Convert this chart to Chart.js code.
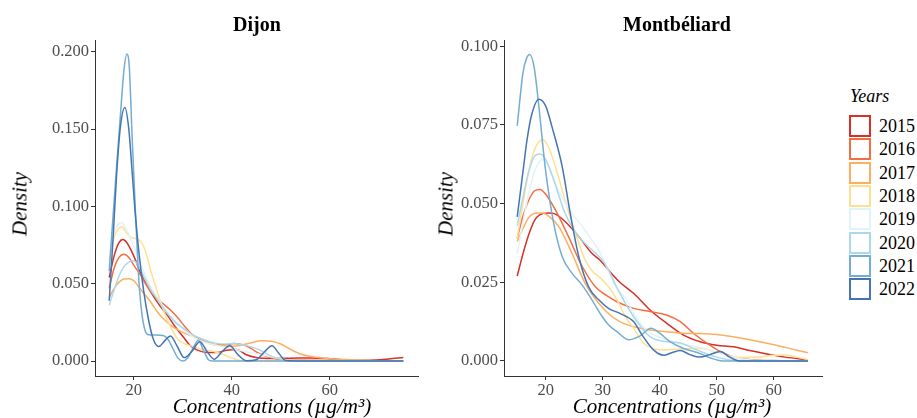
<!DOCTYPE html>
<html>
<head>
<meta charset="utf-8">
<script src="https://cdn.jsdelivr.net/npm/chart.js@4.4.0/dist/chart.umd.min.js"></script>
<style>
  body { margin: 0; background: #fff; }
  #wrap { position: relative; width: 917px; height: 418px; overflow: hidden; font-family: "Liberation Serif", "Times New Roman", serif; color: #000; }
  .panel { position: absolute; top: 0; height: 418px; }
  .title { position: absolute; top: 14px; font-weight: bold; font-size: 20px; line-height: 20px; transform: translateX(-50%); white-space: nowrap; }
  .xtitle { position: absolute; top: 396px; font-style: italic; font-size: 21px; line-height: 21px; transform: translateX(-50%); white-space: nowrap; }
  .ytitle { position: absolute; top: 204px; font-style: italic; font-size: 21px; line-height: 21px; transform: translate(-50%, -50%) rotate(-90deg); white-space: nowrap; }
  #legend { position: absolute; left: 849px; top: 86px; }
  #legend .head { font-style: italic; font-size: 18px; line-height: 20px; margin: 0 0 9px 1px; }
  #legend .row { position: relative; height: 23.33px; }
  #legend .key { position: absolute; left: 0; top: 0; width: 18px; height: 18px; border: 2px solid; background: #fff; }
  #legend .lab { position: absolute; left: 30px; top: 1px; font-size: 18px; line-height: 20px; }
</style>
</head>
<body>
<div id="wrap">
  <div class="panel" style="left:0;width:430px;"><canvas id="dijonChart"></canvas></div>
  <div class="panel" style="left:420px;width:420px;"><canvas id="montChart"></canvas></div>
  <div class="title" style="left:257px;">Dijon</div>
  <div class="title" style="left:677px;">Montbéliard</div>
  <div class="ytitle" style="left:20px;">Density</div>
  <div class="ytitle" style="left:446px;">Density</div>
  <div class="xtitle" style="left:272px;">Concentrations (µg/m³)</div>
  <div class="xtitle" style="left:672px;">Concentrations (µg/m³)</div>
  <div id="legend"></div>
</div>
<script>
// Years and line colours
const years = ['2015', '2016', '2017', '2018', '2019', '2020', '2021', '2022'];
const colors = ['#d73027', '#f46d43', '#fdae61', '#fee090', '#e0f3f8', '#abd9e9', '#74add1', '#4575b4'];

// Axis ticks
const dijonXTicks = [20, 40, 60];
const dijonYTicks = [0, 0.05, 0.1, 0.15, 0.2];
const montXTicks = [20, 30, 40, 50, 60];
const montYTicks = [0, 0.025, 0.05, 0.075, 0.1];

// Dijon densities, [concentration, density]
const dijon2015 = [[15,.054],[16,.068],[17,.0765],[17.8,.0785],[18.7,.076],[20,.068],[21.4,.057],[22.5,.05],[24,.042],[25.5,.035],[27,.029],[28.5,.022],[30,.016],[31.5,.01],[33,.007],[35,.0055],[37,.0055],[39,.007],[41,.0075],[43,.004],[45,.0022],[48,.0016],[52,.0018],[56,.002],[60,.0015],[65,.0004],[69,.0006],[72,.0013],[75,.0022]];
const dijon2016 = [[15,.047],[16,.06],[17,.067],[18,.069],[19,.067],[20,.062],[21.5,.055],[23,.047],[24.5,.041],[26,.037],[27.5,.033],[29,.028],[30.5,.022],[32,.017],[33.5,.014],[35,.012],[36.6,.0105],[38.5,.0105],[40.5,.0113],[42.5,.0103],[44,.008],[45.5,.005],[47.5,.0025],[50,.001],[55,.0005],[60,.0003],[75,0]];
const dijon2017 = [[15,.041],[16,.047],[17,.051],[18,.053],[19,.0532],[20,.052],[21,.048],[22,.044],[23.5,.038],[25,.031],[26.5,.026],[28,.022],[30,.0185],[32,.016],[34,.013],[36,.011],[38,.0098],[40,.0095],[42,.0102],[44,.0118],[46,.0131],[48,.0127],[50,.011],[52,.0075],[54,.0045],[56,.003],[59,.0018],[63,.0009],[68,.0003],[75,0]];
const dijon2018 = [[15,.065],[16,.08],[17,.086],[17.6,.0868],[18.5,.083],[19.5,.08],[20.5,.079],[21.5,.077],[22.5,.07],[23.5,.058],[24.5,.048],[25.5,.038],[26.8,.027],[28,.019],[29,.014],[30.5,.011],[32,.0095],[34,.0075],[36.5,.006],[38,.0045],[40,.002],[41.5,.0005],[43,0],[75,0]];
const dijon2019 = [[15,.07],[16,.083],[17,.089],[17.5,.0895],[18.5,.085],[19.5,.078],[20.5,.07],[22,.058],[23.5,.048],[25,.04],[27,.031],[29,.024],[31,.018],[33,.014],[35,.0115],[37,.01],[40,.008],[43,.006],[46,.004],[49,.002],[52,.0005],[55,0],[75,0]];
const dijon2020 = [[15,.036],[16,.046],[17,.055],[18,.061],[19,.064],[19.8,.065],[20.7,.063],[22,.055],[23.5,.046],[25,.039],[26.8,.031],[28.5,.025],[30.2,.021],[32,.017],[33.6,.0147],[35.5,.0125],[37,.0114],[38.5,.011],[40.4,.0113],[42,.0105],[43.8,.0093],[45.8,.007],[47.5,.004],[49,.002],[51,.0005],[53,0],[75,0]];
const dijon2021 = [[15,.058],[15.7,.09],[16.4,.121],[17.4,.164],[18,.188],[18.6,.1985],[19.1,.19],[19.7,.143],[20.3,.1],[20.9,.06],[21.5,.035],[22.2,.021],[23,.017],[24.5,.0168],[26,.0165],[27,.014],[28,.008],[29,.002],[30,0],[31,.002],[32.2,.009],[33.2,.0135],[34.2,.007],[35.2,.001],[36,0],[75,0]];
const dijon2022 = [[15,.039],[15.8,.08],[16.5,.12],[17.3,.152],[18.2,.164],[19,.15],[19.5,.13],[20.2,.1],[21,.072],[22,.046],[23,.027],[24,.014],[25.1,.0093],[26.3,.013],[27.5,.0162],[28.8,.01],[30.3,.0022],[31.8,.006],[33.5,.0125],[35,.006],[36.4,.0012],[38,.006],[39.6,.0098],[41.3,.004],[43,.0002],[45,.0008],[46.7,.006],[48.2,.0099],[49.6,.005],[51,.0003],[53,0],[75,0]];

// Montbéliard densities, [concentration, density]
const mont2015 = [[15,.027],[16,.034],[17,.04],[18,.0445],[19,.0465],[20.5,.047],[21.5,.0468],[23.4,.0443],[25.8,.0395],[28.1,.0342],[29.5,.0321],[31,.0289],[33,.025],[35.4,.0215],[38.3,.0162],[41.2,.012],[44.1,.0083],[47.1,.0061],[50,.005],[52.9,.0045],[55.8,.0033],[58.8,.0022],[62,.0012],[66,.0003]];
const mont2016 = [[15,.039],[16,.046],[17,.051],[18,.054],[19,.0545],[20,.053],[21.7,.048],[24,.0395],[26.4,.03],[28.7,.0236],[31,.0204],[32.5,.0188],[35.4,.0167],[38.3,.0157],[41.2,.0146],[43.6,.0125],[45.9,.0088],[48.8,.005],[50.6,.003],[53,.0012],[56,.0004],[60,.0001],[66,0]];
const mont2017 = [[15,.038],[16,.042],[17,.0455],[18.5,.047],[19.5,.047],[20.5,.046],[22.3,.0427],[24.6,.0342],[26.9,.0247],[29.3,.0183],[31.3,.0146],[33,.0125],[35.4,.0109],[38.3,.0098],[41.2,.0093],[44.1,.0088],[47.1,.0087],[50,.0084],[52.9,.0077],[55.8,.0067],[58.8,.0056],[62,.0043],[66,.0026]];
const mont2018 = [[15,.039],[16,.05],[17,.06],[18,.067],[19.5,.0704],[20.5,.068],[21.7,.0617],[23.4,.0511],[25.2,.0406],[26.9,.0321],[28.2,.0285],[29.5,.0265],[31,.0236],[32.5,.0195],[34,.014],[35.4,.0104],[37.1,.0058],[38.5,.0042],[40,.0035],[43,.0037],[47,.004],[50.6,.0024],[54,.0011],[57,.0012],[60,.0018],[62,.0019],[64,.0012],[66,.0004]];
const mont2019 = [[15,.034],[16,.044],[17,.053],[18,.06],[19.4,.064],[20.5,.062],[22,.055],[23.5,.05],[24.6,.0469],[26.5,.0425],[28.1,.0384],[29.5,.0345],[31,.0285],[32.5,.023],[34.2,.0194],[35.4,.0151],[37.7,.0098],[41.2,.0067],[44.7,.0051],[48.8,.0035],[52,.0015],[56,.0003],[60,0],[66,0]];
const mont2020 = [[15,.043],[16,.052],[17,.06],[18,.065],[19,.0658],[20,.064],[21.4,.0575],[23.4,.0469],[25.8,.0395],[28.1,.0353],[29.9,.0321],[31,.029],[32.4,.0236],[35.4,.0141],[38.3,.0077],[41.2,.0061],[43.6,.0057],[46.5,.0035],[50,.0012],[54,0],[66,0]];
const mont2021 = [[15,.0747],[16,.0915],[16.6,.096],[17.2,.0974],[18,.093],[18.8,.0808],[19.9,.0617],[21.4,.0437],[22.9,.0331],[24.6,.0279],[26.4,.0241],[28.1,.0194],[29.9,.0141],[31,.0115],[32.5,.0093],[34.6,.0067],[36.5,.0079],[38.5,.0104],[40,.0088],[41.8,.0061],[44.1,.004],[47,.0024],[48.8,.001],[51,0],[66,0]];
const mont2022 = [[15,.0458],[16,.06],[16.7,.07],[17.5,.078],[18.8,.0832],[20,.081],[21.1,.0744],[22.9,.0617],[24.3,.0469],[25.8,.0331],[27.5,.0236],[29.3,.0194],[31,.0167],[33,.0151],[35.4,.0125],[37.1,.0077],[38.9,.0035],[40.7,.0018],[42,.0025],[43.6,.0033],[45.3,.002],[47,.0012],[48.8,.002],[50.6,.003],[52.3,.0012],[54,0],[66,0]];

const dijonSeries = [dijon2015, dijon2016, dijon2017, dijon2018, dijon2019, dijon2020, dijon2021, dijon2022];
const montSeries = [mont2015, mont2016, mont2017, mont2018, mont2019, mont2020, mont2021, mont2022];

const tickFont = { family: '"Liberation Serif", "Times New Roman", serif', size: 16.5 };
const axisColor = '#333333';

function makeChart(canvasId, series, opts) {
    const datasets = series.map((pts, i) => ({
        label: years[i],
        data: pts.map(([x, y]) => ({ x: x, y: y })),
        borderColor: colors[i],
        borderWidth: 1.5,
        pointRadius: 0,
        fill: false,
        cubicInterpolationMode: 'monotone',
        order: series.length - 1 - i   // 2022 drawn on top, like ggplot
    }));

    return new Chart(document.getElementById(canvasId), {
        type: 'line',
        data: { datasets: datasets },
        options: {
            responsive: true,
            maintainAspectRatio: false,
            animation: false,
            events: [],
            layout: { padding: { top: 40, right: opts.padRight, left: 0, bottom: 0 } },
            plugins: { legend: { display: false }, tooltip: { enabled: false } },
            scales: {
                x: {
                    type: 'linear',
                    min: opts.xMin,
                    max: opts.xMax,
                    afterBuildTicks: scale => { scale.ticks = opts.xTicks.map(v => ({ value: v })); },
                    afterFit: scale => { scale.height = 42; },
                    ticks: { font: tickFont, color: '#4d4d4d', padding: 1, maxRotation: 0, callback: v => String(v) },
                    grid: { drawOnChartArea: false, drawTicks: true, tickLength: 4, color: axisColor },
                    border: { display: true, color: axisColor, width: 1 }
                },
                y: {
                    type: 'linear',
                    min: opts.yMin,
                    max: opts.yMax,
                    afterBuildTicks: scale => { scale.ticks = opts.yTicks.map(v => ({ value: v })); },
                    afterFit: scale => { scale.width = opts.yWidth; },
                    ticks: { font: tickFont, color: '#4d4d4d', padding: 2, callback: v => v.toFixed(3) },
                    grid: { drawOnChartArea: false, drawTicks: true, tickLength: 4, color: axisColor },
                    border: { display: true, color: axisColor, width: 1 }
                }
            }
        }
    });
}

makeChart('dijonChart', dijonSeries, {
    xMin: 12.1, xMax: 78, yMin: -0.0097, yMax: 0.2076,
    xTicks: dijonXTicks, yTicks: dijonYTicks, padRight: 12, yWidth: 95
});

makeChart('montChart', montSeries, {
    xMin: 12.68, xMax: 68.47, yMin: -0.0048, yMax: 0.102,
    xTicks: montXTicks, yTicks: montYTicks, padRight: 18, yWidth: 84
});

// Legend
const legend = document.getElementById('legend');
legend.innerHTML = '<div class="head">Years</div>' + years.map((yr, i) => `
    <div class="row">
        <div class="key" style="border-color:${colors[i]}"></div>
        <div class="lab">${yr}</div>
    </div>`).join('');
</script>
</body>
</html>
